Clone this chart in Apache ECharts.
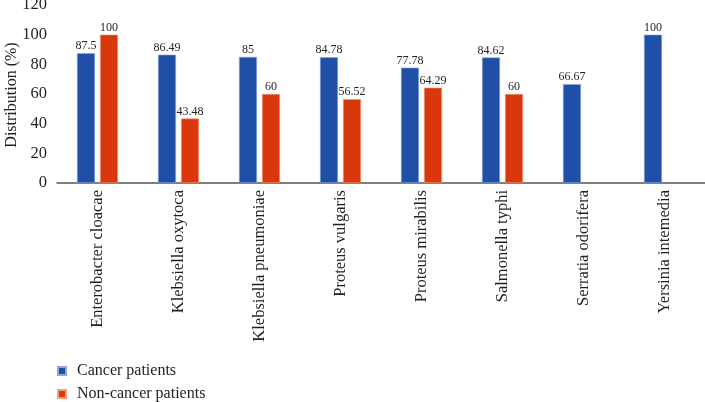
<!DOCTYPE html>
<html>
<head>
<meta charset="utf-8">
<script src="https://cdn.jsdelivr.net/npm/echarts@6/dist/echarts.min.js"></script>
<style>html,body{margin:0;padding:0;background:#fff;}#c{width:705px;height:402px;}</style>
</head>
<body>
<div id="c"></div>
<script>
var categories = ['Enterobacter cloacae','Klebsiella oxytoca','Klebsiella pneumoniae','Proteus vulgaris','Proteus mirabilis','Salmonella typhi','Serratia odorifera','Yersinia intemedia'];
var cancer = [87.5, 86.49, 85, 84.78, 77.78, 84.62, 66.67, 100];
var nonCancer = [100, 43.48, 60, 56.52, 64.29, 60, null, null];
var yTicks = [0, 20, 40, 60, 80, 100, 120];
var yTitle = 'Distribution (%)';

var font = 'Liberation Serif';
var legendText = {fontFamily: font, fontSize: 16, color: '#231f20', padding: [0, 0, 0, 6]};
var chart = echarts.init(document.getElementById('c'));
chart.setOption({
  animation: false,
  textStyle: {fontFamily: font},
  grid: {left: 57, right: 0, top: 5, height: 178, containLabel: false, outerBoundsMode: 'none'},
  graphic: [{
    type: 'text', x: 12, y: 95, rotation: Math.PI / 2,
    style: {text: yTitle, fontFamily: font, fontSize: 16, fill: '#231f20',
      textAlign: 'center', textVerticalAlign: 'middle', align: 'center', verticalAlign: 'middle'}
  }],
  legend: [
    {left: 52, top: 358, itemWidth: 8, itemHeight: 8, itemGap: 10, icon: 'rect',
     textStyle: legendText, data: ['Cancer patients']},
    {left: 52, top: 381, itemWidth: 8, itemHeight: 8, itemGap: 10, icon: 'rect',
     textStyle: legendText, data: ['Non-cancer patients']}
  ],
  xAxis: {
    type: 'category', data: categories,
    axisLine: {lineStyle: {color: '#555', width: 1.5}},
    axisTick: {show: false},
    axisLabel: {rotate: 90, interval: 0, fontFamily: font, fontSize: 16.5, color: '#231f20', margin: 7}
  },
  yAxis: {
    type: 'value', min: 0, max: 120, interval: 20,
    axisLine: {show: false}, axisTick: {show: false}, splitLine: {show: false},
    axisLabel: {fontFamily: font, fontSize: 16.5, color: '#231f20', margin: 10,
      formatter: function (v) { return yTicks.indexOf(v) >= 0 ? String(v) : ''; }}
  },
  series: [
    {
      name: 'Cancer patients', type: 'bar', data: cancer,
      barWidth: 18, barGap: '28%',
      itemStyle: {color: '#1f4fa6', borderColor: '#8fa9d8', borderWidth: 0.6},
      label: {show: true, position: 'top', distance: 1, fontFamily: font, fontSize: 12, color: '#231f20'}
    },
    {
      name: 'Non-cancer patients', type: 'bar', data: nonCancer,
      barWidth: 18,
      itemStyle: {color: '#d9380d', borderColor: '#f0a080', borderWidth: 0.6},
      label: {show: true, position: 'top', distance: 1, fontFamily: font, fontSize: 12, color: '#231f20'}
    }
  ]
});
</script>
</body>
</html>
